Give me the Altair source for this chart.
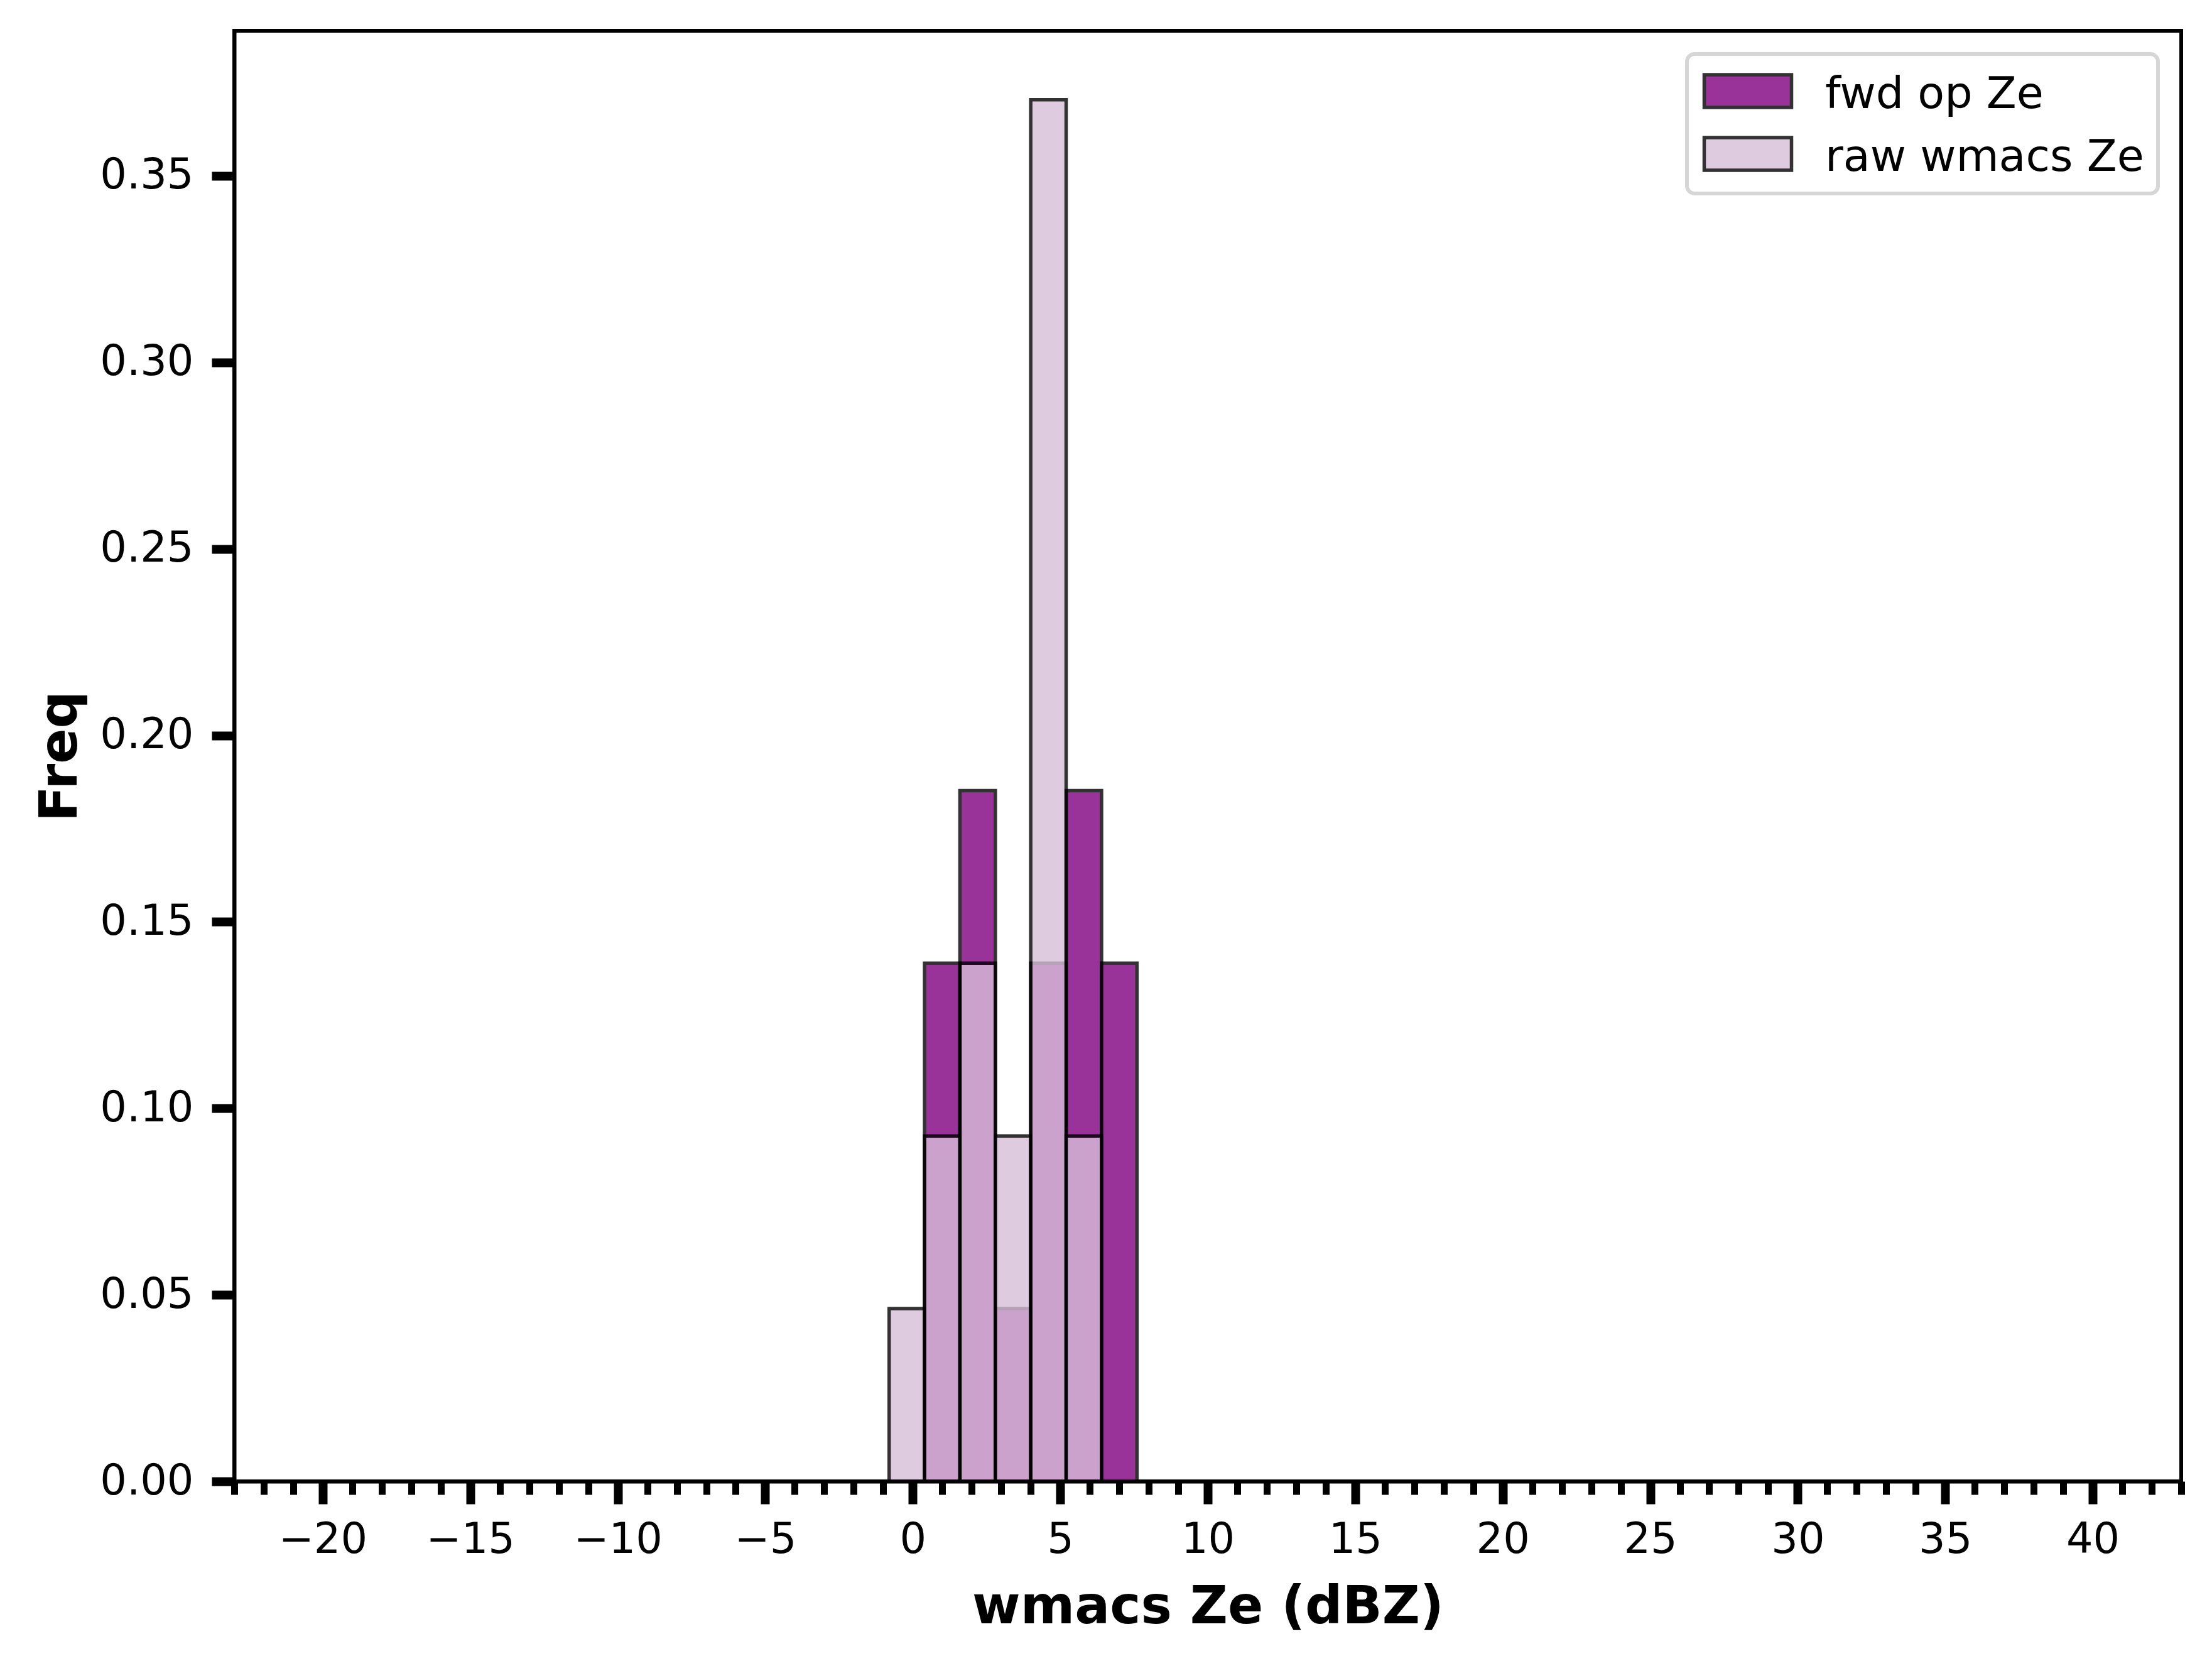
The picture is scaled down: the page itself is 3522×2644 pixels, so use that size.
import altair as alt
import pandas as pd

# Histogram bins (dBZ) and normalized frequencies
bin_left = [-0.8, 0.4, 1.6, 2.8, 4.0, 5.2, 6.4]
bin_right = [0.4, 1.6, 2.8, 4.0, 5.2, 6.4, 7.6]
fwd_freq = [0.0, 0.1389, 0.1852, 0.0463, 0.1389, 0.1852, 0.1389]
raw_freq = [0.0463, 0.0926, 0.1389, 0.0926, 0.3704, 0.0926, 0.0]
series_names = ["fwd op Ze", "raw wmacs Ze"]
series_colors = ["purple", "thistle"]

x_ticks = list(range(-23, 44))
y_ticks = [0.0, 0.05, 0.10, 0.15, 0.20, 0.25, 0.30, 0.35]

rows = []
for name, vals in zip(series_names, [fwd_freq, raw_freq]):
    for l, r, v in zip(bin_left, bin_right, vals):
        rows.append({"series": name, "left": l, "right": r, "freq": v})
df = pd.DataFrame(rows)

FONT = "DejaVu Sans"

x_axis = alt.Axis(
    values=x_ticks,
    labelExpr="datum.value % 5 === 0 ? format(datum.value, 'd') : ''",
    labelOverlap=False,
    labelFlush=False,
    labelFontSize=67,
    labelFont=FONT,
    labelColor="black",
    labelPadding=24,
    tickColor="black",
    tickSize={"condition": {"test": "datum.value % 5 === 0", "value": 36}, "value": 21},
    tickWidth={"condition": {"test": "datum.value % 5 === 0", "value": 14}, "value": 11},
    grid=False,
    domain=True,
    domainColor="black",
    domainWidth=6,
    title="wmacs Ze (dBZ)",
    titleFont=FONT,
    titleFontSize=83,
    titleFontWeight="bold",
    titleColor="black",
    titlePadding=33,
    zindex=1,
)

y_axis = alt.Axis(
    values=y_ticks,
    format=".2f",
    labelFontSize=67,
    labelFont=FONT,
    labelColor="black",
    labelPadding=29,
    tickColor="black",
    tickSize=36,
    tickWidth=14,
    grid=False,
    domain=True,
    domainColor="black",
    domainWidth=6,
    title="Freq",
    titleFont=FONT,
    titleFontSize=83,
    titleFontWeight="bold",
    titleColor="black",
    titlePadding=35,
    zindex=1,
)

legend = alt.Legend(
    title=None,
    orient="none",
    legendX=2313,
    legendY=37,
    labelFontSize=70,
    labelFont=FONT,
    labelColor="black",
    labelLimit=2000,
    labelOffset=80,
    symbolType="M-1.7375,-0.80L1.7375,-0.80L1.7375,0.50L-1.7375,0.50Z",
    symbolSize=6400,
    symbolOffset=32,
    symbolStrokeColor="black",
    symbolStrokeWidth=5.5,
    symbolOpacity=0.8,
    rowPadding=22,
    padding=22,
    fillColor="white",
    strokeColor="#d6d6d6",
    cornerRadius=12,
)

chart = (
    alt.Chart(df)
    .mark_bar(opacity=0.8, stroke="black", strokeWidth=5.5)
    .encode(
        x=alt.X("left:Q", scale=alt.Scale(domain=[-23, 43], nice=False, zero=False), axis=x_axis),
        x2="right:Q",
        y=alt.Y("freq:Q", scale=alt.Scale(domain=[0, 0.3889], nice=False), axis=y_axis),
        y2=alt.datum(0),
        color=alt.Color(
            "series:N",
            scale=alt.Scale(domain=series_names, range=series_colors),
            legend=legend,
        ),
    )
    .properties(
        width=3100,
        height=2309,
        autosize=alt.AutoSizeParams(type="none"),
        padding={"left": 365, "top": 41, "right": 41, "bottom": 278},
    )
    .configure(font=FONT)
    .configure_view(stroke="black", strokeWidth=6)
    .configure_legend(strokeWidth=6)
)

chart.save("out.html", embed_options={"renderer": "svg", "actions": False})
